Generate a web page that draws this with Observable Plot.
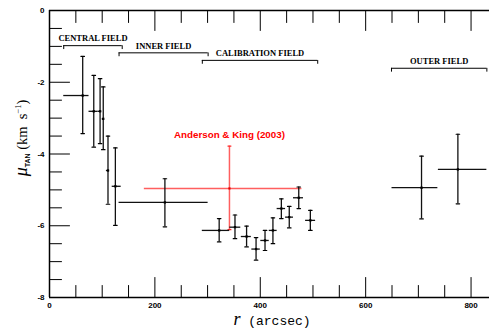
<!DOCTYPE html>
<html><head><meta charset="utf-8">
<script src="https://cdn.jsdelivr.net/npm/d3@7"></script>
<script src="https://cdn.jsdelivr.net/npm/@observablehq/plot@0.6"></script>
<style>body{margin:0;background:#fff}</style>
</head><body><div id="chart"></div>
<script>
// Data: radius r (arcsec), tangential velocity mu_TAN (km/s) with error bounds
const rVals = [63, 84, 96, 102, 111, 125, 219, 322, 352, 374, 392, 409, 424, 440, 455, 473, 495, 706, 775];
const muVals = [-2.37, -2.81, -2.81, -3.02, -4.46, -4.90, -5.35, -6.13, -6.04, -6.30, -6.65, -6.41, -6.13, -5.52, -5.76, -5.22, -5.85, -4.94, -4.43];
const rLo = [27, 75, 92, 100, 108, 119, 132, 290, 342, 364, 384, 401, 417, 432, 448, 463, 486, 650, 738];
const rHi = [75, 92, 99, 104, 114, 136, 301, 342, 363, 383, 400, 417, 432, 448, 463, 482, 505, 737, 830];
const muLo = [-3.43, -3.81, -3.71, -3.88, -5.40, -5.99, -6.03, -6.45, -6.36, -6.59, -6.96, -6.69, -6.50, -5.80, -6.06, -5.52, -6.13, -5.81, -5.39];
const muHi = [-1.28, -1.81, -1.90, -2.13, -3.50, -3.83, -4.69, -5.80, -5.70, -6.01, -6.33, -6.13, -5.78, -5.25, -5.46, -4.92, -5.57, -4.06, -3.45];

// Anderson & King (2003)
const akLabel = "Anderson & King (2003)";
const akR = [341.5], akMu = [-4.96], akRLo = [180], akRHi = [479], akMuLo = [-6.11], akMuHi = [-3.78];

// Field brackets
const fieldNames = ["CENTRAL FIELD", "INNER FIELD", "CALIBRATION FIELD", "OUTER FIELD"];
const fieldStart = [27, 132, 290, 649];
const fieldEnd = [138, 301, 509, 830];
const fieldLevel = [-0.98, -1.18, -1.39, -1.61];

// Ticks
const xTickLabels = [0, 200, 400, 600, 800];
const xMinor = d3.range(0, 835, 50);
const yTickLabels = [0, -2, -4, -6, -8];
const yMinor = d3.range(-8, 0.01, 0.5);

const pts = rVals.map((r, i) => ({r, mu: muVals[i], rLo: rLo[i], rHi: rHi[i], muLo: muLo[i], muHi: muHi[i]}));
const caps = pts.flatMap(d => [{r: d.r, mu: d.muLo}, {r: d.r, mu: d.muHi}]);
const ak = akR.map((r, i) => ({r, mu: akMu[i], rLo: akRLo[i], rHi: akRHi[i], muLo: akMuLo[i], muHi: akMuHi[i]}));
const akCaps = ak.flatMap(d => [{r: d.r, mu: d.muLo}, {r: d.r, mu: d.muHi}]);
const fields = fieldNames.map((name, i) => ({name, x1: fieldStart[i], x2: fieldEnd[i], y: fieldLevel[i], xm: (fieldStart[i] + fieldEnd[i]) / 2}));
const fieldEnds = fields.flatMap(f => [{x: f.x1, y: f.y}, {x: f.x2, y: f.y}]);

const line = {draw(ctx, l) { ctx.moveTo(0, 0); ctx.lineTo(0, -l); }};
const isMajorX = v => v % 200 === 0;
const isMajorY = v => v % 2 === 0;

const chart = Plot.plot({
  width: 489, height: 333,
  marginLeft: 49, marginRight: 0, marginTop: 10, marginBottom: 36,
  x: {domain: [0, 835]},
  y: {domain: [-8, 0]},
  style: {fontFamily: "Liberation Sans", fontWeight: "bold", fontSize: "8px", background: "#fff", color: "#000"},
  marks: [
    // frame
    Plot.ruleY([0, -8], {stroke: "#000", strokeWidth: 1.5}),
    Plot.ruleX([0], {stroke: "#000", strokeWidth: 1.5}),
    // inward ticks
    Plot.vector(xMinor, {x: d => d, y: -8, rotate: 0, anchor: "start", length: d => isMajorX(d) ? 5 : 3, shape: line, stroke: "#000", strokeWidth: 1}),
    Plot.vector(xMinor, {x: d => d, y: 0, rotate: 180, anchor: "start", length: d => isMajorX(d) ? 5 : 3, shape: line, stroke: "#000", strokeWidth: 1}),
    Plot.vector(yMinor, {x: 0, y: d => d, rotate: 90, anchor: "start", length: d => isMajorY(d) ? 5 : 3, shape: line, stroke: "#000", strokeWidth: 1}),
    // tick labels
    Plot.axisX({ticks: xTickLabels, tickSize: 0, tickPadding: 5, tickFormat: d => String(d), label: null}),
    Plot.axisY({ticks: yTickLabels, tickSize: 0, tickPadding: 5, tickFormat: d => String(d), label: null}),
    // field brackets
    Plot.ruleY(fields, {y: "y", x1: "x1", x2: "x2", stroke: "#000", strokeWidth: 1}),
    Plot.vector(fieldEnds, {x: "x", y: "y", rotate: 180, anchor: "start", length: 3, shape: line, stroke: "#000", strokeWidth: 1}),
    Plot.text(fields, {x: "xm", y: "y", text: "name", dy: -7, fontFamily: "Liberation Serif", fontWeight: "bold", fontSize: 8.5, fill: "#000"}),
    // Anderson & King
    Plot.ruleX(ak, {x: "r", y1: "muLo", y2: "muHi", stroke: "#ff2a2a", strokeOpacity: 0.75, strokeWidth: 1.5}),
    Plot.ruleY(ak, {y: "mu", x1: "rLo", x2: "rHi", stroke: "#ff2a2a", strokeOpacity: 0.75, strokeWidth: 1.5}),
    Plot.vector(akCaps, {x: "r", y: "mu", rotate: 90, anchor: "middle", length: 3, shape: line, stroke: "#ff2a2a", strokeWidth: 1.2}),
    Plot.dot(ak, {x: "r", y: "mu", r: 1.2, symbol: "square", fill: "#e00000"}),
    Plot.text(ak, {x: "r", y: "muHi", text: () => akLabel, dy: -11, fill: "#ff0000", fontFamily: "Liberation Sans", fontWeight: "bold", fontSize: 9.8}),
    // data
    Plot.ruleX(pts, {x: "r", y1: "muLo", y2: "muHi", stroke: "#111", strokeWidth: 1.3}),
    Plot.ruleY(pts, {y: "mu", x1: "rLo", x2: "rHi", stroke: "#111", strokeWidth: 1.3}),
    Plot.vector(caps, {x: "r", y: "mu", rotate: 90, anchor: "middle", length: 3.5, shape: line, stroke: "#000", strokeWidth: 1.2}),
    Plot.dot(pts, {x: "r", y: "mu", r: 1.3, symbol: "square", fill: "#000"})
  ]
});
document.getElementById("chart").appendChild(chart);

const svg = d3.select(chart);
// y-axis title
const yt = svg.append("text")
  .attr("transform", "translate(27,138) rotate(-90)")
  .attr("text-anchor", "middle")
  .style("font-family", "'Liberation Serif', serif")
  .style("font-weight", "normal")
  .attr("fill", "#000")
  .style("white-space", "pre");
yt.append("tspan").style("font-style", "italic").style("font-size", "18px").text("μ");
yt.append("tspan").style("font-family", "'Liberation Sans', sans-serif").style("font-weight", "bold").style("font-size", "7px").attr("dy", "3").text("TAN");
yt.append("tspan").style("font-size", "14.5px").attr("dy", "-3").text(" (km  s");
yt.append("tspan").style("font-size", "8.5px").attr("dy", "-6").text("−1");
yt.append("tspan").style("font-size", "14.5px").attr("dy", "6").text(")");
// x-axis title
const xt = svg.append("text")
  .attr("transform", "translate(272,325)")
  .attr("text-anchor", "middle")
  .style("font-weight", "normal")
  .attr("fill", "#000")
  .style("white-space", "pre");
xt.append("tspan").style("font-family", "'Liberation Serif', serif").style("font-style", "italic").style("font-size", "18px").text("r");
xt.append("tspan").style("font-family", "'Liberation Mono', monospace").style("font-size", "13px").text(" (arcsec)");
</script>
</body></html>
